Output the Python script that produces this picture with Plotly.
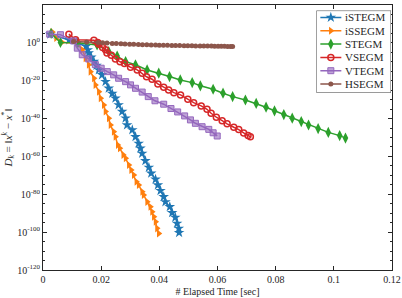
import plotly.graph_objects as go

# ---- data (time in seconds, log10 of D_k) ----
istegm_t = [0.0025, 0.0090, 0.0148, 0.0154, 0.0157, 0.0166, 0.0175, 0.0184, 0.0192, 0.0203,
            0.0215, 0.0226, 0.0238, 0.0249, 0.0260, 0.0272, 0.0284, 0.0289, 0.0307, 0.0318,
            0.0329, 0.0335, 0.0341, 0.0352, 0.0364, 0.0372, 0.0387, 0.0395, 0.0404, 0.0415,
            0.0421, 0.0436, 0.0444, 0.0455, 0.0461, 0.0467, 0.0468]
istegm_log = [4.5, 1.5, -1.8, -3.7, -5.4, -7.6, -9.9, -12.0, -14.3, -16.9,
              -20.5, -24.0, -26.8, -29.3, -32.8, -36.3, -39.8, -43.4, -46.0, -49.6,
              -53.1, -55.7, -58.4, -62.3, -65.8, -68.9, -72.1, -75.1, -78.1, -81.3,
              -84.0, -86.6, -89.8, -92.2, -95.4, -98.0, -100.3]

issegm_t = [0.0032, 0.0045, 0.0065, 0.0118, 0.0135, 0.0146, 0.0157, 0.0163, 0.0175, 0.0180,
            0.0192, 0.0198, 0.0209, 0.0215, 0.0226, 0.0232, 0.0243, 0.0249, 0.0257, 0.0264,
            0.0276, 0.0284, 0.0295, 0.0303, 0.0312, 0.0321, 0.0329, 0.0341, 0.0346, 0.0358,
            0.0369, 0.0375, 0.0381, 0.0387, 0.0392, 0.0398]
issegm_log = [5.7, 2.6, 0.3, -0.3, -3.7, -8.1, -11.6, -15.2, -18.7, -22.2,
              -25.8, -29.3, -32.8, -36.3, -39.8, -43.4, -46.9, -49.6, -54.0, -55.7,
              -59.2, -61.0, -64.5, -67.2, -69.8, -73.4, -75.1, -78.7, -80.4, -84.0,
              -86.6, -89.2, -91.9, -94.5, -98.0, -100.7]

stegm_t = [0.0028, 0.0060, 0.0120, 0.0186, 0.0226, 0.0255, 0.0284, 0.0318, 0.0358, 0.0398,
           0.0435, 0.0472, 0.0513, 0.0541, 0.0585, 0.0619, 0.0652, 0.0696, 0.0733, 0.0767,
           0.0796, 0.0828, 0.0857, 0.0888, 0.0913, 0.0946, 0.0981, 0.1020, 0.1040]
stegm_log = [5.0, 0.2, 0.0, -1.1, -4.6, -7.0, -9.9, -11.6, -14.3, -16.0,
             -17.8, -19.6, -21.0, -22.7, -24.5, -26.6, -28.4, -30.2, -32.0, -34.0,
             -35.9, -37.9, -39.8, -41.6, -43.4, -45.3, -47.3, -49.0, -50.3]

vsegm_t = [0.0089, 0.0112, 0.0175, 0.0188, 0.0192, 0.0205, 0.0215, 0.0220, 0.0235, 0.0249,
           0.0265, 0.0280, 0.0301, 0.0324, 0.0341, 0.0356, 0.0375, 0.0395, 0.0415, 0.0432,
           0.0450, 0.0473, 0.0498, 0.0518, 0.0544, 0.0564, 0.0578, 0.0596, 0.0616, 0.0633,
           0.0656, 0.0673, 0.0690, 0.0705, 0.0713]
vsegm_log = [4.6, 1.6, 1.4, 0.2, -0.7, -2.5, -3.7, -5.4, -6.5, -8.5,
             -10.0, -10.9, -12.9, -14.3, -16.0, -17.9, -19.2, -21.7, -23.4, -24.9,
             -26.3, -27.5, -29.8, -31.6, -33.3, -35.1, -37.2, -39.3, -41.1, -42.8,
             -44.6, -45.8, -47.6, -48.9, -49.6]

vtegm_t = [0.0023, 0.0060, 0.0105, 0.0118, 0.0135, 0.0157, 0.0180, 0.0200, 0.0221, 0.0243,
           0.0260, 0.0284, 0.0301, 0.0318, 0.0341, 0.0362, 0.0385, 0.0415, 0.0440, 0.0463,
           0.0487, 0.0507, 0.0524, 0.0547, 0.0570, 0.0585, 0.0599]
vtegm_log = [4.6, 4.3, 1.0, -2.8, -6.3, -8.5, -11.5, -13.4, -15.2, -16.9,
             -18.7, -20.5, -22.2, -24.0, -26.0, -28.4, -30.6, -32.4, -34.7, -36.5,
             -38.6, -40.7, -42.5, -44.3, -45.7, -47.5, -49.2]

hsegm_t = [0.0105, 0.0150, 0.0190, 0.0205, 0.0220, 0.0238, 0.0252, 0.0268, 0.0282, 0.0298,
           0.0312, 0.0328, 0.0342, 0.0357, 0.0372, 0.0387, 0.0400, 0.0414, 0.0428, 0.0443,
           0.0456, 0.0470, 0.0485, 0.0498, 0.0512, 0.0525, 0.0540, 0.0553, 0.0566, 0.0579,
           0.0590, 0.0602, 0.0613, 0.0624, 0.0635, 0.0645, 0.0652]
hsegm_log = [0.7, 0.4, 0.2, 0.0, -0.1, -0.3, -0.4, -0.5, -0.6, -0.7,
             -0.8, -0.9, -1.0, -1.05, -1.1, -1.15, -1.2, -1.25, -1.3, -1.35,
             -1.4, -1.45, -1.5, -1.5, -1.55, -1.6, -1.6, -1.65, -1.7, -1.7,
             -1.75, -1.8, -1.8, -1.85, -1.9, -1.9, -1.95]

x_ticks = [0, 0.02, 0.04, 0.06, 0.08, 0.1, 0.12]
x_tick_labels = ["0", "0.02", "0.04", "0.06", "0.08", "0.1", "0.12"]
y_tick_exponents = [20, 0, -20, -40, -60, -80, -100, -120]
y_tick_labels = ["10<sup>%d</sup>" % e for e in y_tick_exponents]

series_names = ["iSTEGM", "iSSEGM", "STEGM", "VSEGM", "VTEGM", "HSEGM"]
series_t = [istegm_t, issegm_t, stegm_t, vsegm_t, vtegm_t, hsegm_t]
series_log = [istegm_log, issegm_log, stegm_log, vsegm_log, vtegm_log, hsegm_log]

# ---- styles ----
colors = ["#1f77b4", "#ff7f0e", "#2ca02c", "#d62728", "#9467bd", "#8c564b"]
markers = [
    dict(symbol="star", size=8, color=colors[0]),
    dict(symbol="triangle-right", size=7, color=colors[1]),
    dict(symbol="diamond-tall", size=8, color=colors[2]),
    dict(symbol="circle-open", size=6, color=colors[3], line=dict(width=1.5)),
    dict(symbol="square", size=6, color="rgba(148,103,189,0.6)", line=dict(color=colors[4], width=1)),
    dict(symbol="circle", size=5, color=colors[5]),
]
font_family = "Liberation Serif"
ink = "#262626"

fig = go.Figure()
for name, t, lg, col, mk in zip(series_names, series_t, series_log, colors, markers):
    fig.add_trace(go.Scatter(
        x=t, y=[10 ** v for v in lg], name=name, mode="lines+markers",
        line=dict(color=col, width=1.5), marker=mk, showlegend=False))

# ---- legend box (drawn in its own small overlay axes, pixel-like units) ----
leg_w, leg_h, row_h, row0 = 74.7, 82.0, 13.3, 6.8
for i, (name, col, mk) in enumerate(zip(series_names, colors, markers)):
    yrow = row0 + row_h * i
    fig.add_trace(go.Scatter(
        x=[4, 14.5, 25], y=[yrow, yrow, yrow], mode="lines+markers",
        line=dict(color=col, width=1.5),
        marker=dict(mk, opacity=1), selectedpoints=[1],
        selected=dict(marker=dict(opacity=1)), unselected=dict(marker=dict(opacity=0)),
        xaxis="x2", yaxis="y2", showlegend=False, hoverinfo="skip"))
    fig.add_annotation(x=27, y=yrow, xref="x2", yref="y2", text=name, showarrow=False,
                       xanchor="left", yanchor="middle",
                       font=dict(family=font_family, size=11, color=ink))
fig.add_shape(type="rect", xref="x2", yref="y2", x0=0, x1=leg_w, y0=0, y1=leg_h,
              line=dict(color=ink, width=0.8), fillcolor="white", layer="below")

axis_common = dict(showline=True, linecolor=ink, linewidth=1, mirror="allticks",
                   ticks="inside", ticklen=4, tickcolor=ink, showgrid=False,
                   zeroline=False, automargin=False,
                   tickfont=dict(family=font_family, size=10, color=ink))

L, R, T, B = 42.5, 10.3, 5.4, 28.0
W, H = 402, 298
pw, ph = W - L - R, H - T - B
box_left, box_right, box_top, box_bottom = 316.0, 390.7, 11.0, 93.0

fig.update_layout(
    width=W, height=H,
    margin=dict(l=L, r=R, t=T, b=B),
    paper_bgcolor="white", plot_bgcolor="white",
    font=dict(family=font_family, size=10, color=ink),
    xaxis=dict(range=[0, 0.12], tickvals=x_ticks, ticktext=x_tick_labels,
               title=dict(text="# Elapsed Time [sec]", standoff=3,
                          font=dict(family=font_family, size=10, color=ink)),
               **axis_common),
    yaxis=dict(type="log", range=[-120, 20],
               tickvals=[10.0 ** e for e in y_tick_exponents], ticktext=y_tick_labels,
               minor=dict(dtick=5, ticks="inside", ticklen=2, tickcolor=ink),
               title=dict(text="<i>D<sub>k</sub></i> = ‖<i>x<sup>k</sup></i> − <i>x</i><sup>*</sup>‖",
                          standoff=4, font=dict(family=font_family, size=11, color=ink)),
               **axis_common),
    xaxis2=dict(domain=[(box_left - L) / pw, (box_right - L) / pw], range=[0, leg_w],
                visible=False, fixedrange=True, anchor="y2"),
    yaxis2=dict(domain=[(H - B - box_bottom) / ph, (H - B - box_top) / ph], range=[leg_h, 0],
                visible=False, fixedrange=True, anchor="x2"),
    showlegend=False,
)

fig.write_html("out.html", config={"displayModeBar": False},
               post_script="document.body.style.margin='0';document.body.style.padding='0';")
